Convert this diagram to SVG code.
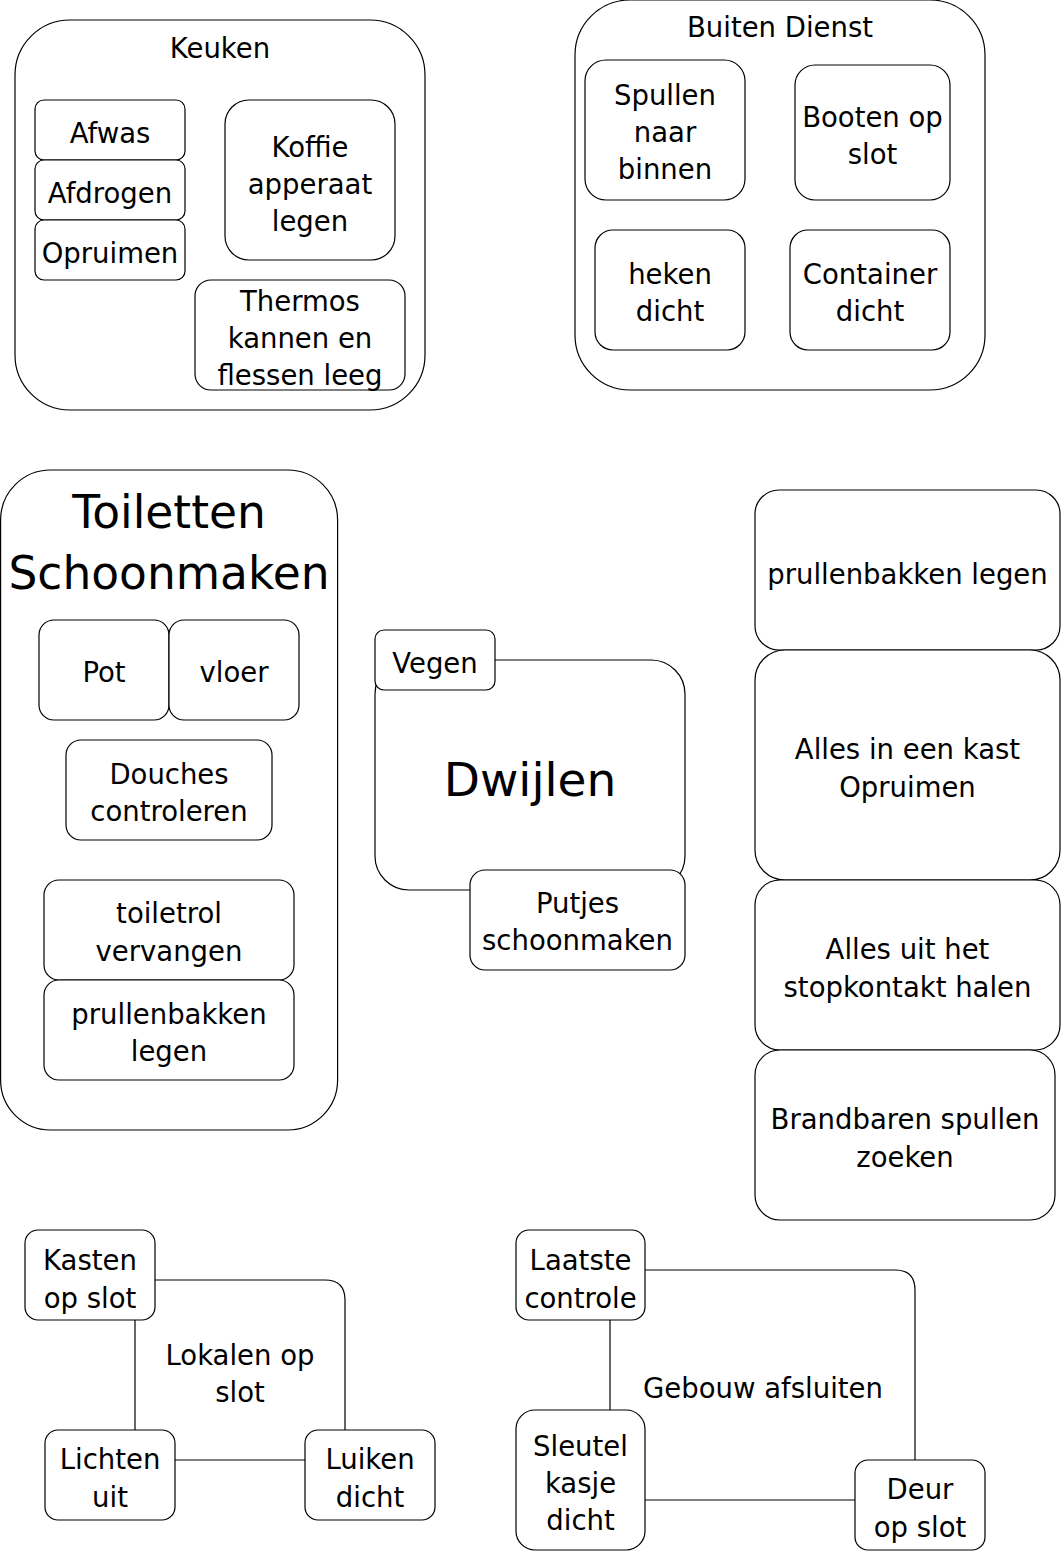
<svg xmlns="http://www.w3.org/2000/svg" width="1061" height="1551" viewBox="0 0 1061 1551">
<style>
rect{fill:#fff;stroke:#000;stroke-width:1.2}
text{font-family:"DejaVu Sans",sans-serif;font-size:27.5px;text-anchor:middle;fill:#000}
.big{font-size:45.5px}
.dw{font-size:47px}
.edge{fill:none;stroke:#000;stroke-width:1.2}
</style>
<rect x="0" y="0" width="1061" height="1551" style="stroke:none"/>
<g id="keuken">
<rect x="15" y="20" width="410" height="390" rx="55"/>
<text x="220" y="58">Keuken</text>
</g>
<g id="afwas"><rect x="35" y="100" width="150" height="60" rx="9"/><text x="110" y="143">Afwas</text></g>
<g id="afdrogen"><rect x="35" y="160" width="150" height="60" rx="9"/><text x="110" y="203">Afdrogen</text></g>
<g id="opruimen"><rect x="35" y="220" width="150" height="60" rx="9"/><text x="110" y="263">Opruimen</text></g>
<g id="koffie"><rect x="225" y="100" width="170" height="160" rx="24"/><text x="310" y="157">Koffie</text><text x="310" y="194">apperaat</text><text x="310" y="231">legen</text></g>
<g id="thermos"><rect x="195" y="280" width="210" height="110" rx="16"/><text x="300" y="311">Thermos</text><text x="300" y="348">kannen en</text><text x="300" y="385">flessen leeg</text></g>

<g id="buiten">
<rect x="575" y="0" width="410" height="390" rx="55"/>
<text x="780" y="37">Buiten Dienst</text>
</g>
<g id="spullen"><rect x="585" y="60" width="160" height="140" rx="21"/><text x="665" y="105">Spullen</text><text x="665" y="142">naar</text><text x="665" y="179">binnen</text></g>
<g id="booten"><rect x="795" y="65" width="155" height="135" rx="20"/><text x="872.5" y="127">Booten op</text><text x="872.5" y="164">slot</text></g>
<g id="heken"><rect x="595" y="230" width="150" height="120" rx="18"/><text x="670" y="284">heken</text><text x="670" y="321">dicht</text></g>
<g id="container"><rect x="790" y="230" width="160" height="120" rx="18"/><text x="870" y="284">Container</text><text x="870" y="321">dicht</text></g>

<g id="toiletten">
<rect x="0.6" y="470" width="337" height="660" rx="50"/>
<text class="big" x="169" y="528">Toiletten</text>
<text class="big" x="169" y="589">Schoonmaken</text>
</g>
<g id="pot"><rect x="39" y="620" width="130" height="100" rx="15"/><text x="104" y="682">Pot</text></g>
<g id="vloer"><rect x="169" y="620" width="130" height="100" rx="15"/><text x="234" y="682">vloer</text></g>
<g id="douches"><rect x="66" y="740" width="206" height="100" rx="15"/><text x="169" y="784">Douches</text><text x="169" y="821">controleren</text></g>
<g id="toiletrol"><rect x="44" y="880" width="250" height="100" rx="15"/><text x="169" y="923">toiletrol</text><text x="169" y="961">vervangen</text></g>
<g id="prullen1"><rect x="44" y="980" width="250" height="100" rx="15"/><text x="169" y="1024">prullenbakken</text><text x="169" y="1061">legen</text></g>

<g id="dwijlen"><rect x="375" y="660" width="310" height="230" rx="34"/><text class="dw" x="530" y="796">Dwijlen</text></g>
<g id="vegen"><rect x="375" y="630" width="120" height="60" rx="9"/><text x="435" y="673">Vegen</text></g>
<g id="putjes"><rect x="470" y="870" width="215" height="100" rx="15"/><text x="577.5" y="913">Putjes</text><text x="577.5" y="950">schoonmaken</text></g>

<g id="prullen2"><rect x="755" y="490" width="305" height="160" rx="24"/><text x="907.5" y="584">prullenbakken legen</text></g>
<g id="kast"><rect x="755" y="650" width="305" height="230" rx="30"/><text x="907.5" y="759">Alles in een kast</text><text x="907.5" y="797">Opruimen</text></g>
<g id="stopkontakt"><rect x="755" y="880" width="305" height="170" rx="25"/><text x="907.5" y="959">Alles uit het</text><text x="907.5" y="997">stopkontakt halen</text></g>
<g id="brandbaren"><rect x="755" y="1050" width="300" height="170" rx="25"/><text x="905" y="1129">Brandbaren spullen</text><text x="905" y="1167">zoeken</text></g>

<g id="connectors">
<path class="edge" d="M155 1280 H325 Q345 1280 345 1300 V1430"/>
<path class="edge" d="M135 1320 V1430"/>
<path class="edge" d="M175 1460 H305"/>
<path class="edge" d="M645 1270 H895 Q915 1270 915 1290 V1460"/>
<path class="edge" d="M610 1320 V1410"/>
<path class="edge" d="M645 1500 H855"/>
</g>
<g id="lokalen-label"><text x="240" y="1365">Lokalen op</text><text x="240" y="1402">slot</text></g>
<g id="kasten"><rect x="25" y="1230" width="130" height="90" rx="13"/><text x="90" y="1270">Kasten</text><text x="90" y="1308">op slot</text></g>
<g id="lichten"><rect x="45" y="1430" width="130" height="90" rx="13"/><text x="110" y="1469">Lichten</text><text x="110" y="1507">uit</text></g>
<g id="luiken"><rect x="305" y="1430" width="130" height="90" rx="13"/><text x="370" y="1469">Luiken</text><text x="370" y="1507">dicht</text></g>

<g id="gebouw-label"><text x="763" y="1398">Gebouw afsluiten</text></g>
<g id="laatste"><rect x="516" y="1230" width="129" height="90" rx="13"/><text x="580.5" y="1270">Laatste</text><text x="580.5" y="1308">controle</text></g>
<g id="sleutel"><rect x="516" y="1410" width="129" height="140" rx="19"/><text x="580.5" y="1456">Sleutel</text><text x="580.5" y="1493">kasje</text><text x="580.5" y="1530">dicht</text></g>
<g id="deur"><rect x="855" y="1460" width="130" height="90" rx="13"/><text x="920" y="1499">Deur</text><text x="920" y="1537">op slot</text></g>
</svg>
